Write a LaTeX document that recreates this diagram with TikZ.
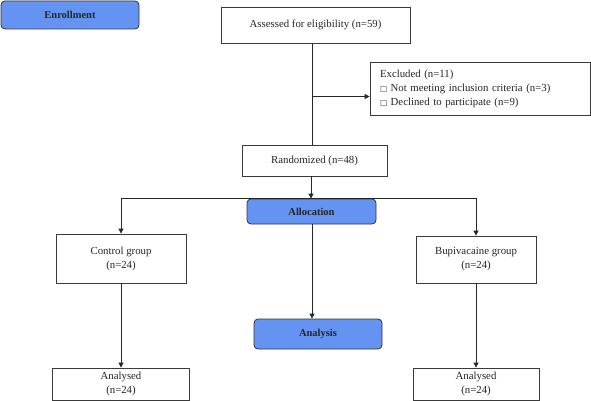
\documentclass[tikz,border=0pt]{standalone}
\usepackage{fontspec}
\setmainfont{Liberation Serif}
\newfontfamily\symfont{DejaVu Sans}
\usetikzlibrary{arrows.meta,positioning}
\definecolor{stageBlue}{HTML}{6493F2}
\definecolor{lineGray}{HTML}{3A3A3A}

\begin{document}
\begin{tikzpicture}[
  x=1pt, y=-1pt,
  box/.style={
    rectangle, draw=lineGray, line width=0.8pt, fill=white,
    font=\fontsize{10.8}{14}\selectfont, text=black!85, align=center,
    inner sep=2pt
  },
  stage/.style={
    rectangle, rounded corners=4pt, draw=black!80, line width=0.8pt,
    fill=stageBlue, font=\fontsize{10.5}{12}\selectfont\bfseries,
    text=black!85, align=center, inner sep=2pt
  },
  arr/.style={-{Triangle[length=5pt,width=5pt]}, line width=0.8pt, black!85},
  line/.style={line width=0.8pt, black!85},
]
\useasboundingbox (0,0) rectangle (591,401);

% === Phase labels ===
\node[stage, minimum width=138pt, minimum height=28pt] (enroll) at (70,15) {Enrollment};
\node[stage, minimum width=129pt, minimum height=25pt] (alloc) at (311.5,211.5) {Allocation};
\node[stage, minimum width=128pt, minimum height=30pt] (anls) at (318,334) {Analysis};

% === Enrollment ===
\node[box, minimum width=189pt, minimum height=36pt] (assess) at (315.5,25) {Assessed for eligibility (n=59)};
\node[box, minimum width=220pt, minimum height=53pt, align=left, text width=200pt]
  (excl) at (480,88.5)
  {Excluded (n=11)\\
   {\symfont\fontsize{7.5}{9}\selectfont □}\ Not meeting inclusion criteria (n=3)\\
   {\symfont\fontsize{7.5}{9}\selectfont □}\ Declined to participate (n=9)};
\node[box, minimum width=145pt, minimum height=31pt] (rand) at (314.5,160.5) {Randomized (n=48)};

% === Allocation ===
\node[box, minimum width=130pt, minimum height=49pt] (ctrl) at (121,258.5) {Control group\\(n=24)};
\node[box, minimum width=120pt, minimum height=47pt] (bupi) at (476,259.5) {Bupivacaine group\\(n=24)};

% === Analysis ===
\node[box, minimum width=137pt, minimum height=32pt] (ctrlan) at (121,384) {Analysed\\(n=24)};
\node[box, minimum width=126pt, minimum height=32pt] (bupian) at (476,384) {Analysed\\(n=24)};

% === Arrows ===
\draw[line] (assess.south -| 312,0) -- (rand.north -| 312,0);
\coordinate (split) at (312,96.5);
\draw[arr] (split) -- (split -| excl.west);
\draw[arr] (rand.south -| 311,0) -- (alloc.north -| 311,0);
\draw[arr] (alloc.north) -| (ctrl.north);
\draw[arr] (alloc.north) -| (bupi.north);
\draw[arr] (alloc.south -| 312,0) -- (anls.north -| 312,0);
\draw[arr] (ctrl) -- (ctrlan);
\draw[arr] (bupi) -- (bupian);

\end{tikzpicture}
\end{document}
